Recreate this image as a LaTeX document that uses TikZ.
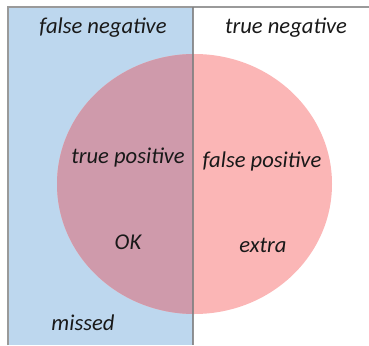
\documentclass[tikz,border=0pt]{standalone}
\usepackage{fontspec}
\setmainfont{Carlito}
\definecolor{setblue}{HTML}{BDD7EE}
\definecolor{setpink}{HTML}{FBB6B6}
\definecolor{setmauve}{HTML}{CF9AAB}
\definecolor{framegray}{HTML}{9A9A9A}
\definecolor{divgray}{HTML}{808080}
\begin{document}
\begin{tikzpicture}[x=1pt,y=-1pt,
  lbl/.style={font=\fontsize{22.6}{26}\selectfont\itshape, inner sep=0pt, text=black!90}]
\useasboundingbox (0,0) rectangle (369,345);
% blue region
\fill[setblue] (8,7) rectangle (193,345);
% ellipse (pink), overlap mauve
\fill[setpink] (194.5,184) ellipse [x radius=137.5, y radius=130];
\begin{scope}
  \clip (8,7) rectangle (193,345);
  \fill[setmauve] (194.5,184) ellipse [x radius=137.5, y radius=130];
\end{scope}
% frame lines
\draw[framegray, line width=1.8pt] (8,345) -- (8,7) -- (369,7);
\draw[divgray, line width=1.4pt, opacity=0.85] (193,7) -- (193,345);
% labels
\node[lbl] (fn) at (103,28) {false negative};
\node[lbl] (tn) at (286,28) {true negative};
\node[lbl] (tp) at (128,158) {true positive};
\node[lbl] (fp) at (262,161) {false positive};
\node[lbl] (ok) at (128,242) {OK};
\node[lbl] (ex) at (263,245) {extra};
\node[lbl] (mi) at (83,323) {missed};
\end{tikzpicture}
\end{document}
